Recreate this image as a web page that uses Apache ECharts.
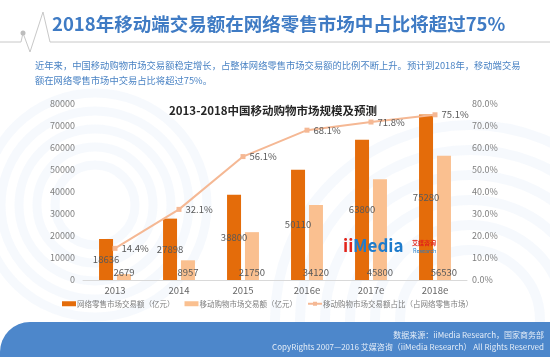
<!DOCTYPE html>
<html>
<head>
<meta charset="utf-8">
<script src="https://cdn.jsdelivr.net/npm/echarts@6/dist/echarts.min.js"></script>
<style>
html,body{margin:0;padding:0;background:#fff;}
#chart{width:550px;height:357px;}
</style>
</head>
<body>
<div id="chart"></div>
<script>
const categories = ['2013', '2014', '2015', '2016e', '2017e', '2018e'];
const onlineRetail = [18636, 27898, 38800, 50110, 63800, 75280];
const mobileShopping = [2679, 8957, 21750, 34120, 45800, 56530];
const mobileShare = [14.4, 32.1, 56.1, 68.1, 71.8, 75.1];
const leftTicks = { min: 0, max: 80000, interval: 10000 };
const rightTicks = { min: 0, max: 80, interval: 10 };
const seriesNames = ['网络零售市场交易额（亿元）', '移动购物市场交易额（亿元）', '移动购物市场交易额占比（占网络零售市场）'];

const FONT = '"Noto Sans CJK SC", "Noto Sans", sans-serif';
const chart = echarts.init(document.getElementById('chart'), null, { renderer: 'canvas' });

const arcs = [];
[40, 58, 76, 94, 112].forEach(function (r) {
  arcs.push({ type: 'circle', silent: true, z: -10, x: 0, y: 0, shape: { cx: 95, cy: 205, r: r },
    style: { fill: 'none', stroke: 'rgba(80,140,210,0.05)', lineWidth: 9 } });
});
[70, 95, 120, 145, 170, 195].forEach(function (r) {
  arcs.push({ type: 'circle', silent: true, z: -10, x: 0, y: 0, shape: { cx: 470, cy: 320, r: r },
    style: { fill: 'none', stroke: 'rgba(80,140,210,0.05)', lineWidth: 10 } });
});

const option = {
  backgroundColor: '#ffffff',
  textStyle: { fontFamily: FONT },
  animation: false,
  grid: { left: 83, right: 83, top: 104, bottom: 77, containLabel: false },
  legend: {
    left: 57, top: 295, itemWidth: 14, itemHeight: 5, itemGap: 10,
    textStyle: { color: '#7f7f7f', fontSize: 7.5, fontFamily: FONT, padding: [0, 0, 0, -4] },
    data: [
      { name: seriesNames[0], icon: 'rect' },
      { name: seriesNames[1], icon: 'rect' },
      { name: seriesNames[2] }
    ]
  },
  xAxis: {
    type: 'category', data: categories, boundaryGap: true,
    axisLine: { lineStyle: { color: '#d9d9d9' } },
    axisTick: { show: false },
    axisLabel: { color: '#666666', fontSize: 9.5, margin: 6, fontFamily: FONT }
  },
  yAxis: [
    {
      type: 'value', min: leftTicks.min, max: leftTicks.max, interval: leftTicks.interval,
      axisLine: { show: false }, axisTick: { show: false }, splitLine: { show: false },
      axisLabel: { color: '#7f7f7f', fontSize: 9, margin: 8, fontFamily: FONT,
        formatter: function (v) { return String(v); } }
    },
    {
      type: 'value', min: rightTicks.min, max: rightTicks.max, interval: rightTicks.interval,
      axisLine: { show: false }, axisTick: { show: false }, splitLine: { show: false },
      axisLabel: { color: '#7f7f7f', fontSize: 9, margin: 5, fontFamily: FONT,
        formatter: function (v) { return v.toFixed(1) + '%'; } }
    }
  ],
  series: [
    {
      name: seriesNames[0], type: 'bar', data: onlineRetail, barWidth: 14, barGap: '28%',
      itemStyle: { color: '#e46c0a' },
      label: { show: true, position: 'inside', color: '#595959', fontSize: 9.5, fontFamily: FONT }
    },
    {
      name: seriesNames[1], type: 'bar', data: mobileShopping, barWidth: 14,
      itemStyle: { color: '#fac090' },
      label: { show: true, position: 'insideBottom', distance: 3, color: '#595959', fontSize: 9.5, fontFamily: FONT }
    },
    {
      name: seriesNames[2], type: 'line', yAxisIndex: 1, data: mobileShare,
      symbol: 'rect', symbolSize: 5,
      lineStyle: { color: '#f5b894', width: 2 },
      itemStyle: { color: '#f5b894' },
      label: { show: true, position: 'right', distance: 4, color: '#595959', fontSize: 9.5, fontFamily: FONT,
        formatter: function (p) { return p.value.toFixed(1) + '%'; } },
      z: 5
    }
  ],
  graphic: arcs.concat([
    { type: 'polyline', silent: true, x: 0, y: 0, shape: { points: [[0, 42], [21, 42], [23, 33], [30, 52], [43, 12], [50, 42], [550, 42]] },
      style: { stroke: '#c8c8c8', lineWidth: 1, fill: 'none' } },
    { type: 'rect', silent: true, x: 0, y: 0, shape: { x: 20.5, y: 30.5, width: 5, height: 5, r: 2.5 }, style: { fill: '#bdbdbd' } },
    { type: 'text', x: 52, y: 15, silent: true,
      style: { text: '2018年移动端交易额在网络零售市场中占比将超过75%', fill: '#3f7bc4', fontSize: 18.5, fontWeight: 'bold', fontFamily: FONT } },
    { type: 'text', x: 35, y: 61, silent: true,
      style: { text: '近年来，中国移动购物市场交易额稳定增长，占整体网络零售市场交易额的比例不断上升。预计到2018年，移动端交易', fill: '#4a83c4', fontSize: 9.3, fontFamily: FONT } },
    { type: 'text', x: 35, y: 76, silent: true,
      style: { text: '额在网络零售市场中交易占比将超过75%。', fill: '#4a83c4', fontSize: 9.3, fontFamily: FONT } },
    { type: 'text', x: 169, y: 105, silent: true,
      style: { text: '2013-2018中国移动购物市场规模及预测', fill: '#262626', fontSize: 11.5, fontWeight: 'bold', fontFamily: FONT } },
    { type: 'text', x: 343, y: 237, silent: true, z: 10,
      style: { text: 'ii', fill: '#e2231a', fontSize: 17, fontWeight: 'bold', fontFamily: FONT } },
    { type: 'text', x: 353, y: 237, silent: true, z: 10,
      style: { text: 'Media', fill: '#1f7ccc', fontSize: 17, fontWeight: 'bold', fontFamily: FONT } },
    { type: 'text', x: 412, y: 240, silent: true, z: 10,
      style: { text: '艾媒咨询', fill: '#e2231a', fontSize: 6, fontWeight: 'bold', fontFamily: FONT } },
    { type: 'text', x: 413, y: 248, silent: true, z: 10,
      style: { text: 'Research', fill: '#1f7ccc', fontSize: 5.5, fontFamily: FONT } },
    { type: 'rect', silent: true, x: 0, y: 0, shape: { x: 0, y: 322, width: 550, height: 40, r: [30, 0, 0, 0] },
      style: { fill: '#4d87cb' } },
    { type: 'text', x: 544, y: 331, silent: true,
      style: { text: '数据来源：iiMedia Research，国家商务部', fill: 'rgba(255,255,255,0.85)', fontSize: 8, fontFamily: FONT, align: 'right' } },
    { type: 'text', x: 544, y: 343, silent: true,
      style: { text: 'CopyRights 2007—2016 艾媒咨询（iiMedia Research） All Rights Reserved', fill: 'rgba(255,255,255,0.85)', fontSize: 8, fontFamily: FONT, align: 'right' } }
  ])
};
chart.setOption(option);
</script>
</body>
</html>
